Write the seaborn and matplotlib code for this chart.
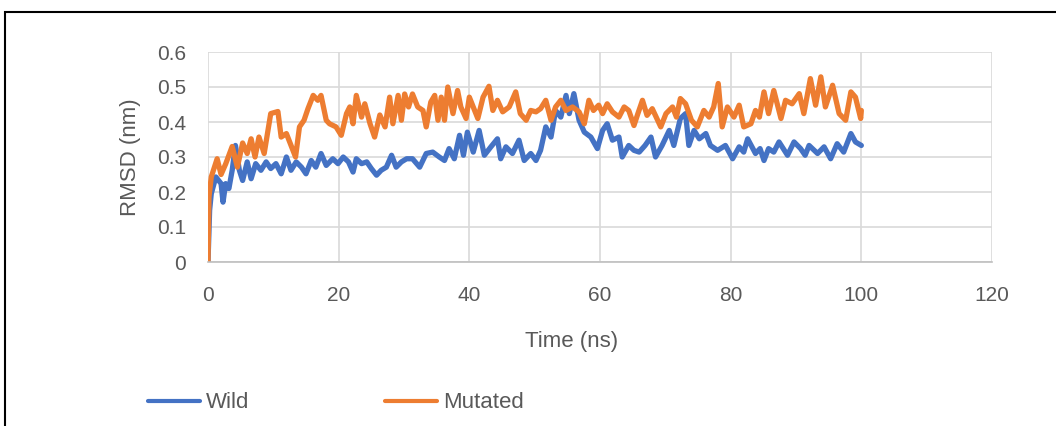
import matplotlib
matplotlib.use("Agg")
import matplotlib.pyplot as plt
import numpy as np
import pandas as pd
import seaborn as sns
from matplotlib.patches import Rectangle

# values (time in ns, RMSD in nm)
wild_t = [0, 0.25, 0.5, 1.2, 2.0, 2.3, 2.7, 3.2, 3.7, 4.2, 4.8, 5.3, 6.0, 6.6, 7.3, 8.1, 8.9, 9.6,
          10.4, 11.2, 12.0, 12.7, 13.5, 14.3, 15.0, 15.8, 16.5, 17.3, 18.1, 19.1, 19.9, 20.7, 21.5,
          22.2, 22.7, 23.5, 24.3, 25.0, 25.8, 26.5, 27.3, 28.1, 28.8, 29.6, 30.4, 31.3, 32.4, 33.4,
          34.4, 35.4, 36.2, 36.9, 37.7, 38.5, 39.1, 39.7, 40.6, 41.5, 42.3, 43.3, 44.3, 44.8, 45.6,
          46.6, 47.6, 48.4, 49.4, 50.2, 50.9, 51.7, 52.5, 53.2, 54.0, 54.8, 55.3, 56.0, 56.8, 57.6,
          58.6, 59.6, 60.4, 61.1, 61.9, 62.9, 63.4, 64.4, 65.2, 66.0, 66.9, 67.8, 68.5, 69.5, 70.6,
          71.3, 72.3, 73.1, 73.6, 74.4, 75.2, 76.2, 76.9, 78.0, 79.2, 80.3, 81.3, 82.0, 82.6, 83.8,
          84.5, 85.1, 85.8, 86.6, 87.4, 88.7, 89.7, 90.7, 91.4, 92.0, 93.3, 94.3, 95.3, 96.3, 97.3,
          98.4, 99.1, 100.0]
wild_rmsd = [0, 0.148, 0.195, 0.243, 0.224, 0.171, 0.224, 0.21, 0.262, 0.333, 0.262, 0.233, 0.286,
             0.238, 0.281, 0.262, 0.286, 0.267, 0.281, 0.252, 0.3, 0.262, 0.286, 0.271, 0.252, 0.29,
             0.271, 0.31, 0.276, 0.295, 0.281, 0.3, 0.286, 0.257, 0.295, 0.281, 0.286, 0.267, 0.248,
             0.262, 0.271, 0.305, 0.271, 0.286, 0.295, 0.295, 0.271, 0.31, 0.314, 0.3, 0.29, 0.324,
             0.295, 0.362, 0.305, 0.371, 0.314, 0.376, 0.305, 0.329, 0.352, 0.295, 0.329, 0.31, 0.348,
             0.29, 0.31, 0.29, 0.319, 0.386, 0.357, 0.433, 0.414, 0.476, 0.424, 0.481, 0.405, 0.371,
             0.357, 0.324, 0.376, 0.395, 0.348, 0.357, 0.3, 0.333, 0.319, 0.314, 0.333, 0.357, 0.3,
             0.333, 0.376, 0.333, 0.41, 0.424, 0.333, 0.376, 0.352, 0.367, 0.333, 0.319, 0.333, 0.295,
             0.329, 0.314, 0.352, 0.31, 0.324, 0.29, 0.324, 0.314, 0.343, 0.305, 0.343, 0.324, 0.305,
             0.333, 0.31, 0.329, 0.295, 0.338, 0.314, 0.367, 0.343, 0.333]

mut_t = [0, 0.15, 0.5, 1.4, 2.0, 2.7, 3.7, 4.5, 5.3, 6.0, 6.6, 7.2, 7.8, 8.6, 9.6, 10.7, 11.2, 12.0,
         12.8, 13.4, 14.0, 14.7, 15.3, 16.1, 16.8, 17.3, 18.1, 18.6, 19.6, 20.4, 21.2, 21.7, 22.2,
         22.7, 23.5, 24.0, 24.8, 25.5, 26.3, 27.1, 27.8, 28.3, 29.1, 29.6, 30.1, 30.7, 31.3, 32.1,
         32.9, 33.4, 34.1, 34.7, 35.2, 35.7, 36.2, 36.7, 37.5, 38.2, 38.7, 39.5, 40.0, 40.8, 41.3,
         42.1, 43.0, 43.6, 44.3, 45.1, 46.1, 47.1, 47.8, 48.7, 49.4, 50.2, 50.9, 51.7, 52.5, 53.2,
         54.0, 54.8, 55.8, 56.8, 57.6, 58.3, 59.0, 59.8, 60.4, 61.1, 61.9, 62.9, 63.7, 64.4, 65.2,
         65.8, 66.5, 67.2, 68.0, 68.6, 69.3, 70.1, 71.1, 71.7, 72.3, 73.1, 74.0, 74.9, 75.9, 76.7,
         77.4, 78.1, 78.7, 79.5, 80.5, 81.3, 82.0, 83.1, 83.8, 84.4, 85.1, 85.8, 86.6, 87.7, 88.4,
         89.4, 90.5, 91.2, 92.2, 93.0, 93.8, 94.5, 95.6, 96.6, 97.6, 98.4, 99.1, 99.9, 100.0]
mut_rmsd = [0, 0.186, 0.243, 0.295, 0.25, 0.28, 0.33, 0.271, 0.34, 0.31, 0.352, 0.3, 0.357, 0.31,
            0.424, 0.43, 0.357, 0.367, 0.329, 0.3, 0.386, 0.405, 0.438, 0.476, 0.462, 0.476, 0.405,
            0.395, 0.386, 0.362, 0.424, 0.443, 0.395, 0.476, 0.414, 0.452, 0.395, 0.357, 0.42, 0.386,
            0.471, 0.395, 0.476, 0.405, 0.48, 0.443, 0.48, 0.443, 0.433, 0.386, 0.457, 0.476, 0.405,
            0.471, 0.405, 0.5, 0.424, 0.49, 0.443, 0.41, 0.471, 0.433, 0.41, 0.471, 0.502, 0.433,
            0.462, 0.429, 0.443, 0.486, 0.424, 0.405, 0.433, 0.429, 0.438, 0.462, 0.405, 0.443, 0.462,
            0.433, 0.443, 0.429, 0.395, 0.462, 0.433, 0.448, 0.424, 0.452, 0.429, 0.414, 0.443, 0.433,
            0.39, 0.424, 0.462, 0.419, 0.438, 0.414, 0.386, 0.424, 0.443, 0.414, 0.467, 0.452, 0.405,
            0.386, 0.433, 0.414, 0.443, 0.51, 0.386, 0.443, 0.414, 0.448, 0.386, 0.395, 0.433, 0.414,
            0.486, 0.424, 0.49, 0.41, 0.462, 0.452, 0.481, 0.424, 0.524, 0.448, 0.529, 0.443, 0.505,
            0.424, 0.405, 0.486, 0.471, 0.41, 0.433]

x_ticks = [0, 20, 40, 60, 80, 100, 120]
y_ticks = [0, 0.1, 0.2, 0.3, 0.4, 0.5, 0.6]
y_ticklabels = ["0", "0.1", "0.2", "0.3", "0.4", "0.5", "0.6"]

df = pd.concat([
    pd.DataFrame({"time": wild_t, "rmsd": wild_rmsd, "series": "Wild"}),
    pd.DataFrame({"time": mut_t, "rmsd": mut_rmsd, "series": "Mutated"}),
])

sns.set_style("white")
plt.rcParams["font.family"] = ["Liberation Sans", "DejaVu Sans"]
grey = "#595959"

fig = plt.figure(figsize=(10.56, 4.26), dpi=100)
ax = fig.add_axes([208 / 1056, 1 - 262 / 426, 784 / 1056, 210 / 426])

sns.lineplot(data=df, x="time", y="rmsd", hue="series", palette={"Wild": "#4472C4", "Mutated": "#ED7D31"},
             estimator=None, sort=False, linewidth=3.8, ax=ax, legend=True)

ax.set_xlim(0, 120)
ax.set_ylim(0, 0.6)
ax.set_xticks(x_ticks)
ax.set_yticks(y_ticks)
ax.set_yticklabels(y_ticklabels)
ax.grid(True, color="#d9d9d9", linewidth=1.2)
ax.set_axisbelow(True)
for side in ["top", "right", "left"]:
    ax.spines[side].set_visible(False)
ax.spines["bottom"].set_color("#bfbfbf")
ax.spines["bottom"].set_linewidth(1.2)
ax.tick_params(axis="both", length=0, labelsize=15, labelcolor=grey)
ax.tick_params(axis="y", pad=16)
ax.tick_params(axis="x", pad=17)

ax.set_xlabel("Time (ns)", fontsize=16, color=grey, va="top")
ax.xaxis.set_label_coords(0.464, -0.33)
ax.set_ylabel("RMSD (nm)", fontsize=16, color=grey)
ax.yaxis.set_label_coords(-0.085, 0.5)

handles, labels = ax.get_legend_handles_labels()
ax.get_legend().remove()
leg = fig.legend(handles, labels, loc="center left", bbox_to_anchor=(148 / 1056, 1 - 403 / 426),
                 ncol=2, frameon=False, fontsize=16, handlelength=2.35, handletextpad=0.27,
                 columnspacing=6.1, borderpad=0, borderaxespad=0)
for line in leg.get_lines():
    line.set_linewidth(3)
for txt in leg.get_texts():
    txt.set_color(grey)

# outer chart border (runs off the right and bottom of the image)
fig.patches.append(Rectangle((5 / 1056, -0.2), 1.5, 1.2 - 12 / 426, transform=fig.transFigure,
                             fill=False, edgecolor="black", linewidth=1.5))

fig.savefig("out.png", dpi=100)
